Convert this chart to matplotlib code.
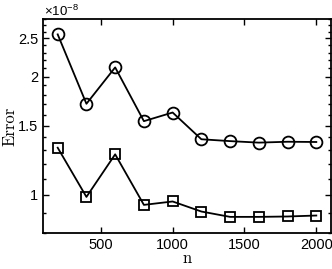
import numpy as np
import matplotlib
matplotlib.use("Agg")
import matplotlib.pyplot as plt
from matplotlib.ticker import FixedLocator, NullFormatter

# data (error values in units of 1e-8)
n = [200, 400, 600, 800, 1000, 1200, 1400, 1600, 1800, 2000]
err_circle = [2.56, 1.705, 2.11, 1.54, 1.62, 1.385, 1.37, 1.358, 1.365, 1.363]
err_square = [1.318, 0.988, 1.268, 0.943, 0.962, 0.907, 0.879, 0.879, 0.881, 0.886]
y_ticks = [1, 1.5, 2, 2.5]
y_tick_labels = ['1', '1.5', '2', '2.5']
x_ticks = [500, 1000, 1500, 2000]

# sans mathtext for the x10^-8 multiplier
plt.rcParams['mathtext.fontset'] = 'custom'
plt.rcParams['mathtext.rm'] = 'Liberation Sans'
plt.rcParams['mathtext.it'] = 'Liberation Sans'
plt.rcParams['mathtext.bf'] = 'Liberation Sans'

fig = plt.figure(figsize=(3.32, 2.69), dpi=100)
ax = fig.add_axes([0.1305, 0.134, 0.8655, 0.795])

ax.plot(n, err_circle, 'k-o', linewidth=1.3, markersize=8.5,
        markerfacecolor='none', markeredgewidth=1.3)
ax.plot(n, err_square, 'k-s', linewidth=1.3, markersize=6.5,
        markerfacecolor='none', markeredgewidth=1.3)

ax.set_yscale('log')
ax.set_xlim(100, 2100)
ax.set_ylim(0.8, 2.8)

ax.yaxis.set_major_locator(FixedLocator(y_ticks))
ax.set_yticklabels(y_tick_labels)
ax.yaxis.set_minor_locator(FixedLocator(np.arange(0.8, 2.81, 0.1)))
ax.yaxis.set_minor_formatter(NullFormatter())
ax.set_xticks(x_ticks)

ax.tick_params(which='both', direction='in', top=True, right=True,
               labelsize=10.5, width=1.0)
ax.tick_params(which='major', length=4)
ax.tick_params(which='minor', length=2.2)
for sp in ax.spines.values():
    sp.set_linewidth(1.3)

for lab in ax.get_xticklabels() + ax.get_yticklabels():
    lab.set_fontfamily('Liberation Sans')

ax.set_xlabel('n', fontsize=12, fontfamily='cmr10')
ax.xaxis.set_label_coords(0.5, -0.085)
ax.set_ylabel('Error', fontsize=12, fontfamily='cmr10')
ax.yaxis.set_label_coords(-0.09, 0.5)

ax.text(0.004, 1.0, r'×10$^{-8}$', transform=ax.transAxes,
        fontsize=9.5, ha='left', va='bottom', fontfamily='Liberation Sans')

fig.savefig('out.png', dpi=100)
